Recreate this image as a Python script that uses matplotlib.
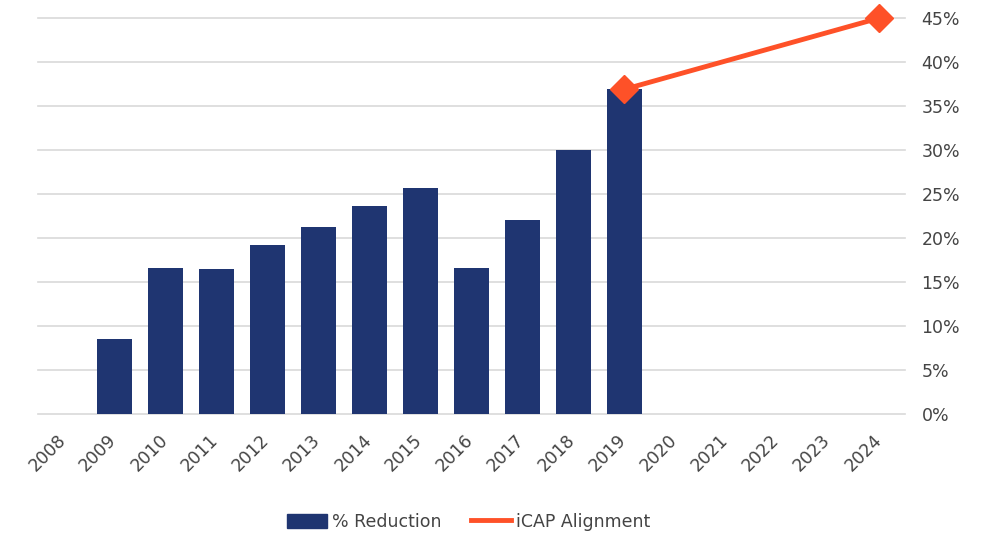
"""
% Reduction by year with the iCAP alignment target line.
"""
import numpy as np
import matplotlib.pyplot as plt
from matplotlib.lines import Line2D
from matplotlib.patches import Patch
from matplotlib.ticker import PercentFormatter
from matplotlib.transforms import ScaledTranslation

years = [str(y) for y in range(2008, 2025)]
reduction = [np.nan, 8.5, 16.6, 16.5, 19.2, 21.2, 23.6, 25.7, 16.6, 22.1, 30.0, 36.9,
             np.nan, np.nan, np.nan, np.nan, np.nan]
icap_years = ["2019", "2024"]
icap_values = [36.9, 45.0]

bar_color = "#1f3571"
line_color = "#fe5128"
text_color = "#444444"


def produce_plot():
    fig = plt.figure(figsize=(9.84, 5.36), dpi=100)
    ax = fig.add_axes([0.0386, 0.2276, 0.881, 0.7388])

    x = np.arange(len(years))
    ax.bar(x, reduction, width=0.7, color=bar_color, zorder=2)

    icap_x = [years.index(y) for y in icap_years]
    ax.plot(icap_x, icap_values, color=line_color, linewidth=3.5, marker="D",
            markersize=14, zorder=3, clip_on=False)

    ax.set_xlim(-0.5, len(years) - 0.5)
    ax.set_ylim(0, 45)
    ax.set_yticks(np.arange(0, 46, 5))
    ax.yaxis.set_major_formatter(PercentFormatter(decimals=0))
    ax.yaxis.tick_right()
    ax.grid(axis="y", color="#d9d9d9", linewidth=1.2, zorder=0)
    for gl in ax.get_ygridlines():
        gl.set_clip_on(False)
    ax.set_axisbelow(True)
    ax.set_xticks(x)
    ax.set_xticklabels(years, rotation=45, ha="right", rotation_mode="anchor")
    ax.tick_params(axis="both", length=0, labelsize=12.5, labelcolor=text_color)
    ax.tick_params(axis="y", pad=12)
    ax.tick_params(axis="x", pad=12)
    # nudge the rotated year labels left so they end under their bar
    shift = ScaledTranslation(-0.07, 0, fig.dpi_scale_trans)
    for lbl in ax.get_xticklabels():
        lbl.set_transform(lbl.get_transform() + shift)
    for side in ax.spines:
        ax.spines[side].set_visible(False)

    handles = [Patch(color=bar_color, label="% Reduction"),
               Line2D([], [], color=line_color, linewidth=3.5, label="iCAP Alignment")]
    fig.legend(handles=handles, loc="center", bbox_to_anchor=(0.476, 0.026), ncol=2,
               frameon=False, fontsize=12.5, labelcolor=text_color, handlelength=2.3,
               handleheight=0.9, columnspacing=1.7, handletextpad=0.3)
    fig.savefig("out.png", dpi=100)


def main():
    produce_plot()


if __name__ == "__main__":
    main()
